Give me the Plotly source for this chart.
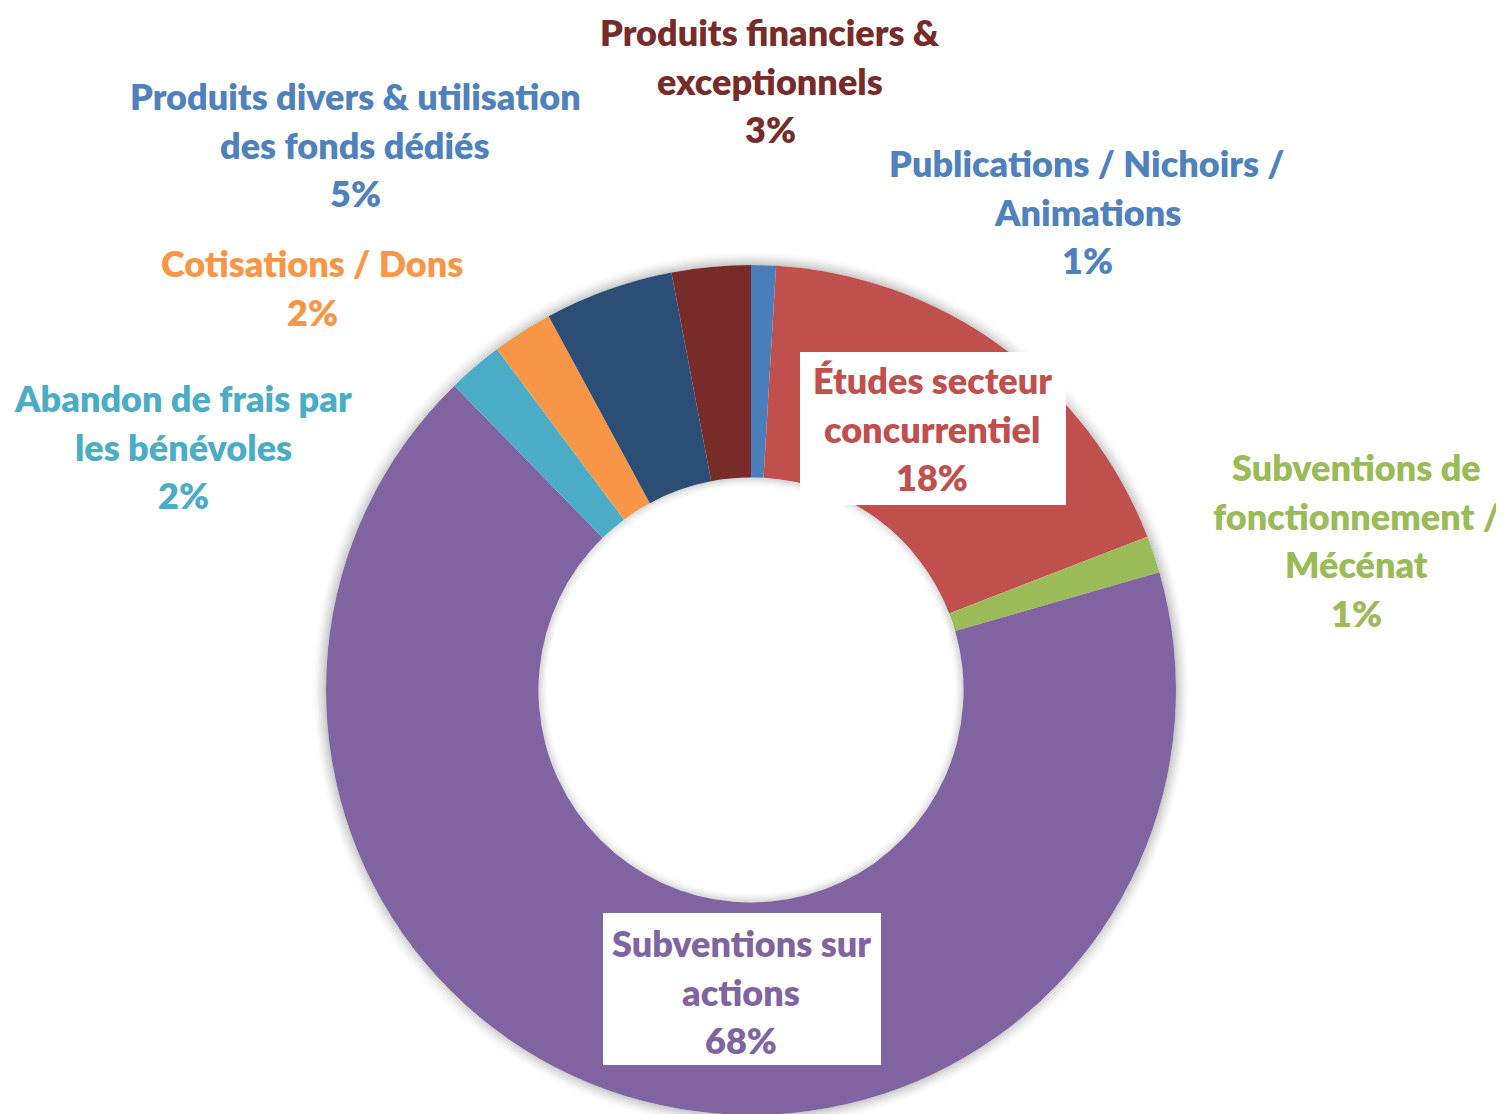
import plotly.graph_objects as go

W, H = 1504, 1114
OFF = 8  # page body margin offset (px)

# ---------------- data ----------------
categories = [
    "Publications / Nichoirs /\nAnimations",
    "Études secteur\nconcurrentiel",
    "Subventions de\nfonctionnement /\nMécénat",
    "Subventions sur\nactions",
    "Abandon de frais par\nles bénévoles",
    "Cotisations / Dons",
    "Produits divers & utilisation\ndes fonds dédiés",
    "Produits financiers &\nexceptionnels",
]
values = [0.94, 18.2, 1.4, 67.2, 2.1, 2.3, 4.9, 3.0]
pct_labels = ["1%", "18%", "1%", "68%", "2%", "2%", "5%", "3%"]

# ---------------- styles / layout ----------------
slice_colors = ["#4a7ebb", "#c0504d", "#9bbb59", "#8064a2",
                "#4bacc6", "#f79646", "#2c4d75", "#772c2a"]
text_colors = ["#4f81bd", "#c0504d", "#9bbb59", "#8064a2",
               "#4bacc6", "#f79646", "#4f81bd", "#772c2a"]

CX, CY, R = 751, 690, 425          # donut centre / radius in screen px
HOLE = 0.5
label_pos = [(1087, 163), (932, 380), (1356, 467), (741, 943),
             (183, 398), (312, 263), (355, 96), (770, 32)]
label_boxes = {1: (800, 352, 1066, 505), 3: (603, 913, 881, 1065)}
LINE = 48.5
FONT = dict(family="Lato", size=36, weight=800)


def px(x):
    return (x - OFF) / W


def py(y):
    return 1 - (y - OFF) / H


fig = go.Figure()
fig.add_trace(go.Pie(
    labels=[c.replace("\n", " ") for c in categories],
    values=values,
    hole=HOLE,
    sort=False,
    direction="clockwise",
    rotation=0,
    marker=dict(colors=slice_colors, line=dict(width=0)),
    textinfo="none",
    showlegend=False,
    domain=dict(x=[px(CX - R), px(CX + R)],
                y=[max(0, py(CY + R)), min(1, py(CY - R))]),
))

shapes = []
# soft shadow rings outside the donut
N = 14
for k in range(N):
    a = 0.22 * (1 - k / N) ** 1.6
    r = R + k + 0.5
    shapes.append(dict(type="circle", xref="paper", yref="paper", layer="below",
                       x0=px(CX - r), x1=px(CX + r), y0=py(CY + r), y1=py(CY - r),
                       line=dict(color=f"rgba(0,0,0,{a:.4f})", width=1),
                       fillcolor="rgba(0,0,0,0)"))
# soft shadow inside the hole
RH = R * HOLE
for k in range(10):
    a = 0.16 * (1 - k / 10) ** 1.6
    r = RH - k - 0.5
    shapes.append(dict(type="circle", xref="paper", yref="paper", layer="below",
                       x0=px(CX - r), x1=px(CX + r), y0=py(CY + r), y1=py(CY - r),
                       line=dict(color=f"rgba(0,0,0,{a:.4f})", width=1),
                       fillcolor="rgba(0,0,0,0)"))
# white label boxes
for i, (x0, y0, x1, y1) in label_boxes.items():
    shapes.append(dict(type="rect", xref="paper", yref="paper", layer="above",
                       x0=px(x0), x1=px(x1), y0=py(y1), y1=py(y0),
                       fillcolor="white", line=dict(width=0)))

annotations = []
for i, name in enumerate(categories):
    lines = name.split("\n") + [pct_labels[i]]
    lx, ly = label_pos[i]
    for j, t in enumerate(lines):
        annotations.append(dict(
            text=t, x=px(lx), y=py(ly + j * LINE), xref="paper", yref="paper",
            xanchor="center", yanchor="middle", showarrow=False,
            font=dict(color=text_colors[i], **FONT)))

fig.update_layout(
    width=W, height=H,
    margin=dict(l=0, r=0, t=0, b=0),
    paper_bgcolor="white", plot_bgcolor="white",
    shapes=shapes, annotations=annotations,
)

fig.write_html("out.html")
